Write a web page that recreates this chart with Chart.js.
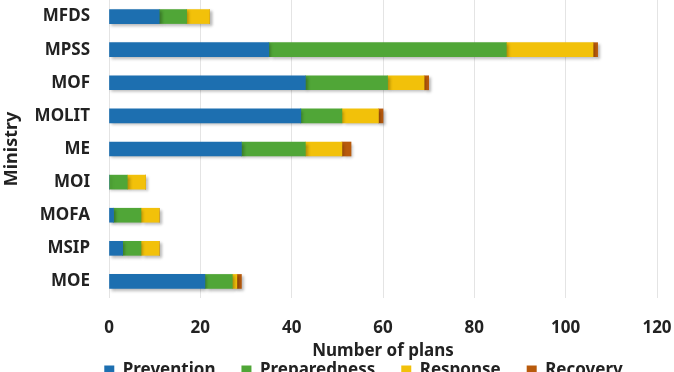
<!DOCTYPE html>
<html>
<head>
<meta charset="utf-8">
<script src="https://cdn.jsdelivr.net/npm/chart.js@4"></script>
<style>
  html, body { margin: 0; padding: 0; background: #fff; overflow: hidden; }
</style>
</head>
<body>
<canvas id="planChart" width="674" height="387"></canvas>
<script>
// ministries, top to bottom
const ministries = ["MFDS", "MPSS", "MOF", "MOLIT", "ME", "MOI", "MOFA", "MSIP", "MOE"];

// number of plans per phase
const prevention = [11, 35, 43, 42, 29, 0, 1, 3, 21];
const preparedness = [6, 52, 18, 9, 14, 4, 6, 4, 6];
const response = [5, 19, 8, 8, 8, 4, 4, 4, 1];
const recovery = [0, 1, 1, 1, 2, 0, 0, 0, 1];

const xTicks = [0, 20, 40, 60, 80, 100, 120];

const phaseColors = ["#1d6fb0", "#50a637", "#f2c10a", "#b85a0c"];

const fontFamily = "'Noto Sans', 'Open Sans', sans-serif";
const boldFont = { family: fontFamily, size: 17, weight: "bold" };

// soft drop shadow under the bars
const barShadow = {
  id: "barShadow",
  beforeDatasetsDraw(chart) {
    const ctx = chart.ctx;
    ctx.save();
    ctx.shadowColor = "rgba(0,0,0,0.28)";
    ctx.shadowBlur = 3;
    ctx.shadowOffsetX = 2;
    ctx.shadowOffsetY = 2;
  },
  afterDatasetsDraw(chart) {
    chart.ctx.restore();
  },
};

// legend sits a bit right of the canvas centre in the original
const legendShift = {
  id: "legendShift",
  afterLayout(chart) {
    chart.legend.left += 70;
    chart.legend.top += 2;
  },
};

const ctx = document.getElementById("planChart").getContext("2d");
const planChart = new Chart(ctx, {
  type: "bar",
  data: {
    labels: ministries,
    datasets: [
      { label: "Prevention", data: prevention, backgroundColor: phaseColors[0] },
      { label: "Preparedness", data: preparedness, backgroundColor: phaseColors[1] },
      { label: "Response", data: response, backgroundColor: phaseColors[2] },
      { label: "Recovery", data: recovery, backgroundColor: phaseColors[3] },
    ],
  },
  options: {
    indexAxis: "y",
    responsive: false,
    animation: false,
    devicePixelRatio: 1,
    barThickness: 14,
    layout: { autoPadding: false, padding: { left: 0, right: 17, top: 0, bottom: 0 } },
    scales: {
      x: {
        stacked: true,
        min: 0,
        max: 120,
        afterBuildTicks: (axis) => {
          axis.ticks = xTicks.map((v) => ({ value: v }));
        },
        afterFit: (axis) => {
          axis.height = 36;
          axis.paddingLeft = 0;
          axis.paddingRight = 0;
        },
        grid: { color: "#e4e4e4", drawTicks: false },
        border: { display: false },
        ticks: { color: "#222", padding: 20, font: boldFont },
        title: {
          display: true,
          text: "Number of plans",
          color: "#222",
          padding: { top: 0, bottom: -27 },
          font: boldFont,
        },
      },
      y: {
        stacked: true,
        afterFit: (axis) => {
          axis.width = 109;
          axis.paddingTop = 0;
          axis.paddingBottom = 0;
        },
        grid: { display: false, drawTicks: false },
        border: { display: false },
        ticks: { color: "#222", padding: 19, font: boldFont },
        title: {
          display: true,
          text: "Ministry",
          color: "#222",
          padding: { top: 1, bottom: 0 },
          font: { family: fontFamily, size: 18, weight: "bold" },
        },
      },
    },
    plugins: {
      legend: {
        position: "bottom",
        labels: {
          color: "#222",
          boxWidth: 10,
          boxHeight: 10,
          padding: 26,
          font: boldFont,
        },
      },
      tooltip: { enabled: false },
    },
  },
  plugins: [barShadow, legendShift],
});
</script>
</body>
</html>
